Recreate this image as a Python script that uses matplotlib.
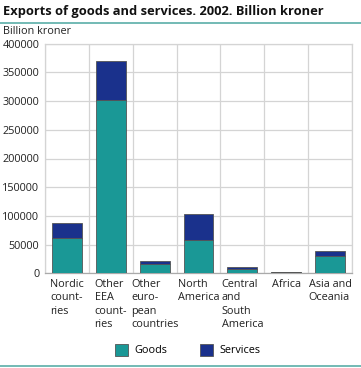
import matplotlib
matplotlib.use("Agg")
import matplotlib.pyplot as plt
from matplotlib.patches import Patch
from matplotlib.lines import Line2D

categories = ["Nordic\ncount-\nries", "Other\nEEA\ncount-\nries", "Other\neuro-\npean\ncountries",
              "North\nAmerica", "Central\nand\nSouth\nAmerica", "Africa", "Asia and\nOceania"]
goods = [62000, 302000, 15500, 57500, 8200, 2500, 30500]
services = [25000, 68500, 6000, 46000, 3500, 600, 8000]
yticks = [0, 50000, 100000, 150000, 200000, 250000, 300000, 350000, 400000]

plt.rcParams['font.family'] = ['Open Sans', 'DejaVu Sans']
W, H = 361, 368
fig = plt.figure(figsize=(W / 100, H / 100), dpi=100)
ax = fig.add_axes([45 / W, (H - 273.3) / H, (352 - 45) / W, (273.3 - 43.7) / H])

goods_c = "#1a9896"
serv_c = "#1a318c"
fs = 7.8
x = list(range(len(categories)))
ax.bar(x, goods, width=0.68, color=goods_c, edgecolor="#555555", linewidth=0.6, zorder=3)
ax.bar(x, services, width=0.68, bottom=goods, color=serv_c, edgecolor="#555555", linewidth=0.6, zorder=3)

ax.set_xlim(-0.5, len(categories) - 0.5)
ax.set_ylim(0, 400000)
ax.set_yticks(yticks)
ax.set_yticklabels([str(v) for v in yticks], fontsize=fs, color="#222222")
ax.set_xticks([i + 0.5 for i in range(-1, len(categories))], minor=False)
ax.set_xticklabels([])
ax.tick_params(axis='both', length=0, pad=4)
ax.grid(True, color="#d4d4d4", linewidth=0.9, zorder=0)
for s in ax.spines.values():
    s.set_color("#d4d4d4")
    s.set_linewidth(0.9)
ax.spines['bottom'].set_color("#aaaaaa")

for i, lab in enumerate(categories):
    ax.text(i, -0.025, lab, transform=ax.get_xaxis_transform(), ha='center', va='top',
            multialignment='left', fontsize=fs, color="#222222", linespacing=1.3)

fig.text(3 / W, 1 - 12 / H, "Exports of goods and services. 2002. Billion kroner",
         fontsize=9.3, fontweight='bold', va='center', ha='left', color="#111111")
fig.text(3 / W, 1 - 32 / H, "Billion kroner", fontsize=fs, va='center', ha='left', color="#222222")
fig.add_artist(Line2D([0, 1], [1 - 23 / H, 1 - 23 / H], color="#5aaea8", linewidth=1.2))
fig.add_artist(Line2D([0, 1], [1 - 365.5 / H, 1 - 365.5 / H], color="#5aaea8", linewidth=1.2))

handles = [Patch(facecolor=goods_c, edgecolor="#555555", linewidth=0.6, label="Goods"),
           Patch(facecolor=serv_c, edgecolor="#555555", linewidth=0.6, label="Services")]
fig.legend(handles=handles, loc='center', bbox_to_anchor=(187.5 / W, 1 - 350 / H), ncol=2, frameon=False,
           fontsize=fs, handlelength=1.2, handleheight=1.4, columnspacing=3.0, handletextpad=0.6,
           borderpad=0.2)

fig.savefig("out.png", dpi=100)
